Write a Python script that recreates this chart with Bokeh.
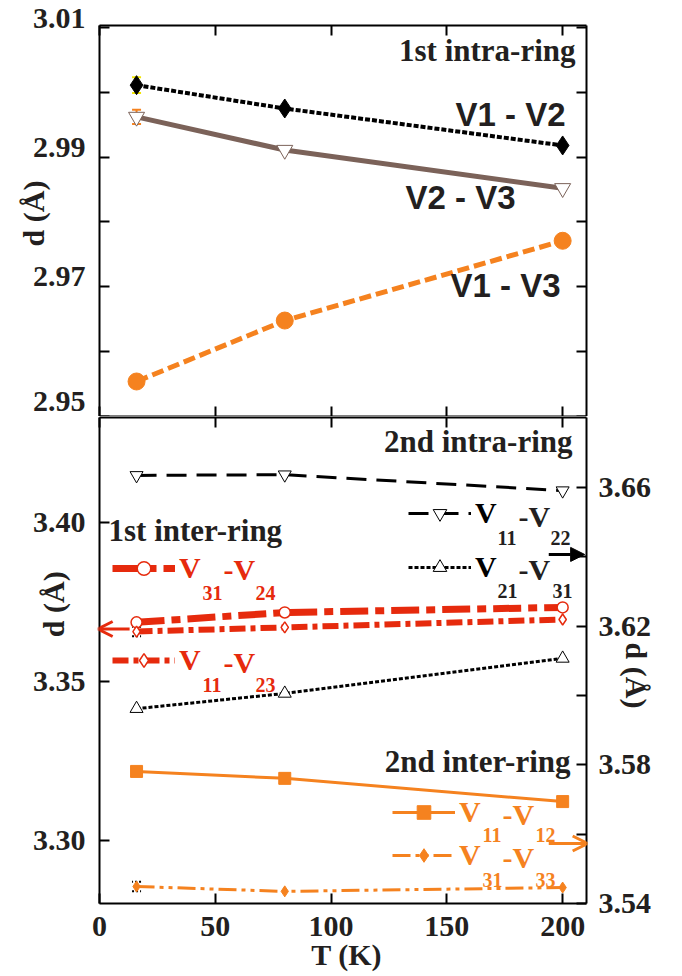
import math
from bokeh.plotting import figure
from bokeh.layouts import column
from bokeh.core.properties import value
from bokeh.models import (Range1d, LinearAxis, FixedTicker, PrintfTickFormatter, Label,
                          Legend, LegendItem, Arrow, OpenHead, NormalHead, TeeHead,
                          Whisker, ColumnDataSource, CustomLabelingPolicy)
from bokeh.embed import file_html
from bokeh.resources import INLINE

# ---------------- data ----------------
T = [16, 80, 200]
# top panel: 1st intra-ring (d in Angstrom)
d_v1_v2 = [3.0011, 2.9975, 2.9918]
d_v2_v3 = [2.9962, 2.9911, 2.9852]
d_v1_v3 = [2.9554, 2.9648, 2.9771]
# bottom panel, left axis: 1st inter-ring
d_v31_v24 = [3.3686, 3.3717, 3.3733]
d_v11_v23 = [3.3657, 3.3670, 3.3695]
# bottom panel, right axis: 2nd intra-ring and 2nd inter-ring
d_v11_v22 = [3.6635, 3.6637, 3.6591]
d_v21_v31 = [3.5962, 3.6006, 3.6107]
d_v11_v12 = [3.5781, 3.5761, 3.5694]
d_v31_v33 = [3.5449, 3.5435, 3.5446]
# visible error bars (only at the lowest temperature)
T_err = [16]
err_v1_v2 = [0.0012]
err_v2_v3 = [0.0011]
err_v11_v23 = [0.0015]
err_v31_v33 = [0.0014]

x_ticks = [0, 50, 100, 150, 200]
top_major = [2.95, 2.97, 2.99, 3.01]
top_minor = [2.96, 2.98, 3.00]
left_major = [3.30, 3.35, 3.40]
right_major = [3.54, 3.58, 3.62, 3.66]
right_minor = [3.56, 3.60, 3.64]

# ---------------- style ----------------
SERIF = "Liberation Serif"
SANS = "Liberation Sans"
INK = "#231F20"
ORANGE = "#F5821F"
BROWN = "#7B6259"
RED = "#E62A0D"
YELLOW = "#F2E600"
NB = "\u00a0"
EM = "\u2003"

FW = 487
TOP_H = 391
BOT_H = 486
X_END = 210.3

NO_LABELS = CustomLabelingPolicy(code="return []")


def style_axis(ax, ticks, minor=None, labels=True, standoff=12, fmt=None,
               title=None, title_standoff=0, font=SERIF):
    ax.ticker = FixedTicker(ticks=ticks, minor_ticks=minor or [])
    ax.major_tick_in = 10
    ax.major_tick_out = 0
    ax.minor_tick_in = 10
    ax.minor_tick_out = 0
    ax.axis_line_width = 2
    ax.major_tick_line_width = 2
    ax.minor_tick_line_width = 2
    ax.axis_line_color = "black"
    ax.major_tick_line_color = "black"
    ax.minor_tick_line_color = "black"
    if labels:
        ax.major_label_text_font = font
        ax.major_label_text_font_style = "bold"
        ax.major_label_text_font_size = "30px"
        ax.major_label_text_color = INK
        ax.major_label_standoff = standoff
    else:
        ax.major_label_policy = NO_LABELS
        ax.major_label_text_font_size = "0px"
        ax.major_label_standoff = 0
    if fmt:
        ax.formatter = PrintfTickFormatter(format=fmt)
    if title:
        ax.axis_label = title
        ax.axis_label_text_font = SERIF
        ax.axis_label_text_font_style = "bold"
        ax.axis_label_text_font_size = "30px"
        ax.axis_label_text_color = INK
        ax.axis_label_standoff = title_standoff
    else:
        ax.axis_label = None
    return ax


# measured: a Label's alphabetic baseline lands ~0.38 em below its y
def text(p, s, sx, sy, size=30, font=SERIF, color=INK, align="left"):
    p.add_layout(Label(x=sx, y=sy + 0.38 * size, x_units="screen", y_units="screen", text=s,
                       text_font=font, text_font_size=f"{size}px", text_font_style="bold",
                       text_color=color, text_align=align, text_baseline="alphabetic"))


def errbar(p, ys, errs, color, dash="solid", range_name="default"):
    src = ColumnDataSource(data=dict(x=T_err,
                                     lo=[y - e for y, e in zip(ys, errs)],
                                     hi=[y + e for y, e in zip(ys, errs)]))
    kw = dict(line_color=color, line_width=2, size=9, line_dash=dash)
    w = Whisker(base="x", lower="lo", upper="hi", source=src, dimension="height",
                line_color=color, line_width=2, line_dash=dash,
                lower_head=TeeHead(**kw), upper_head=TeeHead(**kw))
    if range_name != "default":
        w.y_range_name = range_name
    p.add_layout(w)


# ---------------- top panel ----------------
p1 = figure(frame_width=FW, frame_height=TOP_H, x_range=Range1d(0, X_END),
            y_range=Range1d(2.95, 3.0103), output_backend="svg", toolbar_location=None,
            x_axis_location=None, y_axis_location=None,
            min_border_left=99, min_border_right=88, min_border_top=25, min_border_bottom=0)
p1.outline_line_color = None
p1.background_fill_color = "white"
p1.grid.visible = False

ax_top_left = style_axis(LinearAxis(), top_major, top_minor, labels=True, standoff=14,
                         fmt="%.2f", title=NB * 2 + "d (Å)", title_standoff=-20)
# in this panel the labels sit above their ticks: an empty second line lifts them
ax_top_left.major_label_overrides = {v: f"{v:.2f}\n" for v in top_major[1:]}
ax_top_left.major_label_text_line_height = 0.67
p1.add_layout(ax_top_left, "left")
p1.add_layout(style_axis(LinearAxis(), top_major, top_minor, labels=False), "right")
p1.add_layout(style_axis(LinearAxis(), x_ticks, labels=False), "below")
p1.add_layout(style_axis(LinearAxis(), x_ticks, labels=False), "above")

errbar(p1, d_v1_v2[:1], err_v1_v2, YELLOW)
errbar(p1, d_v2_v3[:1], err_v2_v3, ORANGE)
p1.line(T, d_v1_v2, line_color="black", line_width=4, line_dash="5 2")
p1.scatter(T, d_v1_v2, marker="diamond", size=19, fill_color="black", line_color="black")
p1.line(T, d_v2_v3, line_color=BROWN, line_width=5)
p1.scatter(T, d_v2_v3, marker="inverted_triangle", size=16, fill_color="white",
           line_color=BROWN, line_width=1)
p1.line(T, d_v1_v3, line_color=ORANGE, line_width=5, line_dash="12 5")
p1.scatter(T, d_v1_v3, marker="circle", size=17, fill_color=ORANGE, line_color=ORANGE)


def t1(s, X, Y, **kw):
    text(p1, s, X - 99, 416 - Y, **kw)


t1("1st intra-ring", 575, 62, size=31, align="right")
t1("V1 - V2", 565, 127, size=33, font=SANS, align="right")
t1("V2 - V3", 515, 210, size=33, font=SANS, align="right")
t1("V1 - V3", 560, 298, size=33, font=SANS, align="right")

# ---------------- bottom panel ----------------
p2 = figure(frame_width=FW, frame_height=BOT_H, x_range=Range1d(0, X_END),
            y_range=Range1d(3.2802, 3.4330), output_backend="svg", toolbar_location=None,
            x_axis_location=None, y_axis_location=None,
            min_border_left=99, min_border_right=88, min_border_top=1, min_border_bottom=68)
p2.extra_y_ranges = {"right": Range1d(3.54, 3.6802)}
p2.outline_line_color = None
p2.background_fill_color = "white"
p2.grid.visible = False

p2.add_layout(style_axis(LinearAxis(), left_major, labels=True, standoff=14, fmt="%.2f",
                         title=EM * 3 + NB * 3 + "d (Å)", title_standoff=-40), "left")
p2.add_layout(style_axis(LinearAxis(y_range_name="right"), right_major, right_minor,
                         labels=True, standoff=12, fmt="%.2f",
                         title=NB * 4 + "d (Å)", title_standoff=-34), "right")
p2.add_layout(style_axis(LinearAxis(), x_ticks, labels=True, standoff=13,
                         title=NB + "T (K)", title_standoff=-1), "below")
p2.add_layout(style_axis(LinearAxis(), x_ticks, labels=False), "above")

errbar(p2, d_v11_v23[:1], err_v11_v23, "black", dash="2 2")
errbar(p2, d_v31_v33[:1], err_v31_v33, "black", dash="2 2", range_name="right")

# 2nd intra-ring (right axis)
l_1122 = p2.line(T, d_v11_v22, y_range_name="right", line_color="black", line_width=3, line_dash="20 10")
s_1122 = p2.scatter(T, d_v11_v22, y_range_name="right", marker="inverted_triangle", size=13,
                    fill_color="white", line_color="black", line_width=1)
l_2131 = p2.line(T, d_v21_v31, y_range_name="right", line_color="black", line_width=3, line_dash="4 2")
s_2131 = p2.scatter(T, d_v21_v31, y_range_name="right", marker="triangle", size=13,
                    fill_color="white", line_color="black", line_width=1)
# 2nd inter-ring (right axis)
l_1112 = p2.line(T, d_v11_v12, y_range_name="right", line_color=ORANGE, line_width=3)
s_1112 = p2.scatter(T, d_v11_v12, y_range_name="right", marker="square", size=12,
                    fill_color=ORANGE, line_color=ORANGE)
l_3133 = p2.line(T, d_v31_v33, y_range_name="right", line_color=ORANGE, line_width=3,
                 line_dash="18 5 4 5 4 5")
s_3133 = p2.scatter(T, d_v31_v33, y_range_name="right", marker="diamond", size=11,
                    fill_color=ORANGE, line_color=ORANGE)
# 1st inter-ring (left axis)
l_3124 = p2.line(T, d_v31_v24, line_color=RED, line_width=7, line_dash="28 7 9 7")
s_3124 = p2.scatter(T, d_v31_v24, marker="circle", size=11, fill_color="white",
                    line_color=RED, line_width=1.5)
l_1123 = p2.line(T, d_v11_v23, line_color=RED, line_width=6, line_dash="16 5 5 5")
s_1123 = p2.scatter(T, d_v11_v23, marker="diamond", size=11, fill_color="white",
                    line_color=RED, line_width=1.5)


def t2(s, X, Y, **kw):
    text(p2, s, X - 99, 903 - Y, **kw)


def legend(renderers, color, X_left, Y_mid):
    lg = Legend(items=[LegendItem(label=value("V"), renderers=renderers)],
                location=(X_left - 99, 903 - Y_mid - 17), orientation="vertical",
                glyph_width=63, glyph_height=34, label_height=34, label_standoff=4,
                padding=0, margin=0, spacing=0, border_line_color=None,
                background_fill_alpha=0, label_text_font=SERIF, label_text_font_size="30px",
                label_text_font_style="bold", label_text_color=color)
    p2.add_layout(lg, "center")


legend([l_3124, s_3124], RED, 112, 568)
t2("-V", 223, 580, color=RED)
t2("31", 202, 600, size=20, color=RED)
t2("24", 255, 600, size=20, color=RED)

legend([l_1123, s_1123], RED, 112, 660)
t2("-V", 223, 673, color=RED)
t2("11", 202, 692, size=20, color=RED)
t2("23", 255, 692, size=20, color=RED)

legend([l_1122, s_1122], "black", 408, 513)
t2("-V", 518, 527, color=INK)
t2("11", 497, 545, size=20, color=INK)
t2("22", 550, 545, size=20, color=INK)

legend([l_2131, s_2131], "black", 408, 567)
t2("-V", 518, 580, color=INK)
t2("21", 497, 598, size=20, color=INK)
t2("31", 552, 598, size=20, color=INK)

legend([l_1112, s_1112], ORANGE, 392, 812)
t2("-V", 502, 825, color=ORANGE)
t2("11", 482, 842, size=20, color=ORANGE)
t2("12", 535, 842, size=20, color=ORANGE)

legend([l_3133, s_3133], ORANGE, 392, 855)
t2("-V", 502, 868, color=ORANGE)
t2("31", 482, 887, size=20, color=ORANGE)
t2("33", 535, 887, size=20, color=ORANGE)

# group titles
t2("2nd intra-ring", 572, 453, size=31, align="right")
t2("1st inter-ring", 108, 542, size=31)
t2("2nd inter-ring", 570, 773, size=31, align="right")

# arrows pointing to the relevant axis
p2.add_layout(Arrow(end=OpenHead(line_color=RED, line_width=3, size=15),
                    x_start=13, y_start=3.3665, x_end=-0.8, y_end=3.3665,
                    line_color=RED, line_width=3))
p2.add_layout(Arrow(end=NormalHead(line_color="black", fill_color="black", size=14),
                    x_start=194, y_start=3.6407, x_end=209.5, y_end=3.6407,
                    y_range_name="right", line_color="black", line_width=3))
p2.add_layout(Arrow(end=OpenHead(line_color=ORANGE, line_width=3, size=15),
                    x_start=194, y_start=3.5573, x_end=210.8, y_end=3.5573,
                    y_range_name="right", line_color=ORANGE, line_width=3))

layout = column(p1, p2)
open("out.html", "w").write(file_html(layout, INLINE))
